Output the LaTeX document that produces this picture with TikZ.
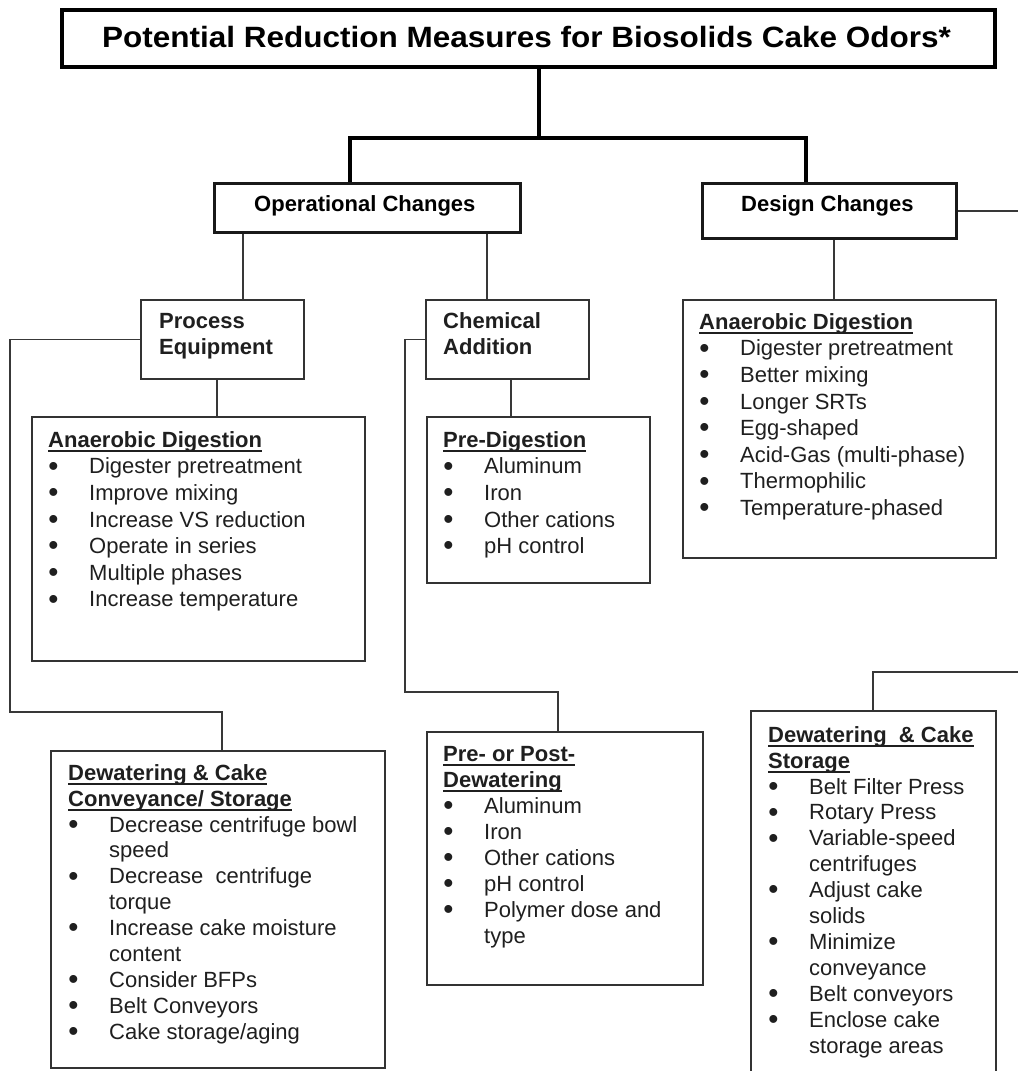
\documentclass[tikz,border=0pt]{standalone}
\usepackage{fontspec}
\setmainfont{Liberation Sans}
\usetikzlibrary{calc}
\setlength\parindent{0pt}
\setlength\parskip{0pt}
\newcommand\hdr[1]{\leavevmode\setbox0\hbox{\bfseries #1}\rlap{\rule[-4.6pt]{\wd0}{1.8pt}}\box0}
\newcommand\bl{\leavevmode\makebox[41pt][l]{\hspace{0.5pt}\raisebox{-1.2pt}{\scalebox{1.25}{\bfseries\textbullet}}}}
\newcommand\cl{\leavevmode\hspace*{41pt}}
\newcommand\lnstart{\spaceskip=0pt\xspaceskip=0pt\relax\strut}
\begin{document}
\begin{tikzpicture}[x=1pt,y=-1pt,
  box/.style={draw=black!80, line width=1.8pt, rectangle, anchor=north west, inner sep=0pt},
  midbox/.style={box, draw=black!90, line width=2.8pt},
  bigbox/.style={box, draw=black, line width=3.6pt},
  bodytxt/.style={anchor=north west, inner sep=0pt, align=left, text width=320pt, text=black!88},
  thinline/.style={draw=black!78, line width=1.7pt},
  thickline/.style={draw=black, line width=3.5pt, line join=miter}]
\useasboundingbox (0,0) rectangle (1018,1071);
\fill[white] (0,0) rectangle (1018,1071);
\clip (0,0) rectangle (1018,1071);

% ---------- boxes ----------
\node[bigbox, minimum width=933pt, minimum height=57pt] (title) at (60,8) {};
\node[midbox, minimum width=306pt, minimum height=49pt] (op) at (213,182) {};
\node[midbox, minimum width=254pt, minimum height=55pt] (dc) at (701,182) {};
\node[box, minimum width=163pt, minimum height=79pt] (pe) at (140,299) {};
\node[box, minimum width=163pt, minimum height=79pt] (ca) at (425,299) {};
\node[box, minimum width=313pt, minimum height=258pt] (dad) at (682,299) {};
\node[box, minimum width=333pt, minimum height=244pt] (oad) at (31,416) {};
\node[box, minimum width=223pt, minimum height=166pt] (pdg) at (426,416) {};
\node[box, minimum width=276pt, minimum height=253pt] (ppd) at (426,731) {};
\node[box, minimum width=334pt, minimum height=317pt] (odw) at (50,750) {};
\node[box, minimum width=245pt, minimum height=420pt] (ddw) at (750,710) {};

% ---------- texts ----------
\node[anchor=base west, inner sep=0pt] (ttitle) at (102,47)
  {\scalebox{1.105}[1.03]{\fontsize{28.5}{34}\selectfont\bfseries Potential Reduction Measures for Biosolids Cake Odors*}};
\node[anchor=base west, inner sep=0pt] (top) at (254,211.7)
  {\fontsize{22}{26}\selectfont\bfseries Operational Changes};
\node[anchor=base west, inner sep=0pt] (tdc) at (741,211.7)
  {\fontsize{22}{26}\selectfont\bfseries Design Changes};
\node[bodytxt, text width=140pt, font=\fontsize{22}{25.7}\selectfont\bfseries] (tpe) at (159,310.3)
  {\lnstart Process\\\strut Equipment};
\node[bodytxt, text width=140pt, font=\fontsize{22}{25.7}\selectfont\bfseries] (tca) at (443,310.3)
  {\lnstart Chemical\\\strut Addition};

\node[bodytxt, font=\fontsize{22}{26.6}\selectfont] (toad) at (48,428.4)
  {\lnstart\hdr{Anaerobic Digestion}\\
   \bl Digester pretreatment\\
   \bl Improve mixing\\
   \bl Increase VS reduction\\
   \bl Operate in series\\
   \bl Multiple phases\\
   \bl Increase temperature};

\node[bodytxt, text width=200pt, font=\fontsize{22}{26.6}\selectfont] (tpdg) at (443,428.4)
  {\lnstart\hdr{Pre-Digestion}\\
   \bl Aluminum\\
   \bl Iron\\
   \bl Other cations\\
   \bl pH control};

\node[bodytxt, text width=300pt, font=\fontsize{22}{26.6}\selectfont] (tdad) at (699,310.4)
  {\lnstart\hdr{Anaerobic Digestion}\\
   \bl Digester pretreatment\\
   \bl Better mixing\\
   \bl Longer SRTs\\
   \bl Egg-shaped\\
   \bl Acid-Gas (multi-phase)\\
   \bl Thermophilic\\
   \bl Temperature-phased};

\node[bodytxt, font=\fontsize{22}{25.9}\selectfont] (todw) at (68,761.9)
  {\lnstart\hdr{Dewatering \& Cake}\\
   \hdr{Conveyance/ Storage}\\
   \bl Decrease centrifuge bowl\\
   \cl speed\\
   \bl Decrease\ \ centrifuge\\
   \cl torque\\
   \bl Increase cake moisture\\
   \cl content\\
   \bl Consider BFPs\\
   \bl Belt Conveyors\\
   \bl Cake storage/aging};

\node[bodytxt, text width=260pt, font=\fontsize{22}{26.1}\selectfont] (tppd) at (443,742.7)
  {\lnstart\hdr{Pre- or Post-}\\
   \hdr{Dewatering}\\
   \bl Aluminum\\
   \bl Iron\\
   \bl Other cations\\
   \bl pH control\\
   \bl Polymer dose and\\
   \cl type};

\node[bodytxt, text width=240pt, font=\fontsize{22}{25.9}\selectfont] (tddw) at (768,723.9)
  {\lnstart\hdr{Dewatering\ \ \& Cake}\\
   \hdr{Storage}\\
   \bl Belt Filter Press\\
   \bl Rotary Press\\
   \bl Variable-speed\\
   \cl centrifuges\\
   \bl Adjust cake\\
   \cl solids\\
   \bl Minimize\\
   \cl conveyance\\
   \bl Belt conveyors\\
   \bl Enclose cake\\
   \cl storage areas};

% ---------- connectors ----------
\coordinate (jt) at (539,138);
\coordinate (jl) at (350,138);
\coordinate (jr) at (806,138);
\draw[thickline] (title.south -| jt) -- (jt);
\draw[thickline] (op.north -| jl) |- (jr) -- (dc.north -| jr);

\coordinate (oa) at (243,0);
\coordinate (ob) at (487,0);
\draw[thinline] (op.south -| oa) -- (pe.north -| oa);
\draw[thinline] (op.south -| ob) -- (ca.north -| ob);

\coordinate (dx) at (834,0);
\draw[thinline] (dc.south -| dx) -- (dad.north -| dx);
\coordinate (er) at (1018,0);
\draw[thinline] (dc.east) -- (dc.east -| er);

\coordinate (pl) at (10,0);
\coordinate (pd) at (222,712);
\draw[thinline] (pe.west) -- (pe.west -| pl) |- (pd) -- (odw.north -| pd);
\coordinate (pb) at (217,0);
\draw[thinline] (pe.south -| pb) -- (oad.north -| pb);

\coordinate (cl) at (405,0);
\coordinate (cd) at (558,692);
\draw[thinline] (ca.west) -- (ca.west -| cl) |- (cd) -- (ppd.north -| cd);
\coordinate (cb) at (511,0);
\draw[thinline] (ca.south -| cb) -- (pdg.north -| cb);

\coordinate (dd) at (873,0);
\coordinate (dr) at (1018,672);
\draw[thinline] (ddw.north -| dd) |- (dr);
\end{tikzpicture}
\end{document}
